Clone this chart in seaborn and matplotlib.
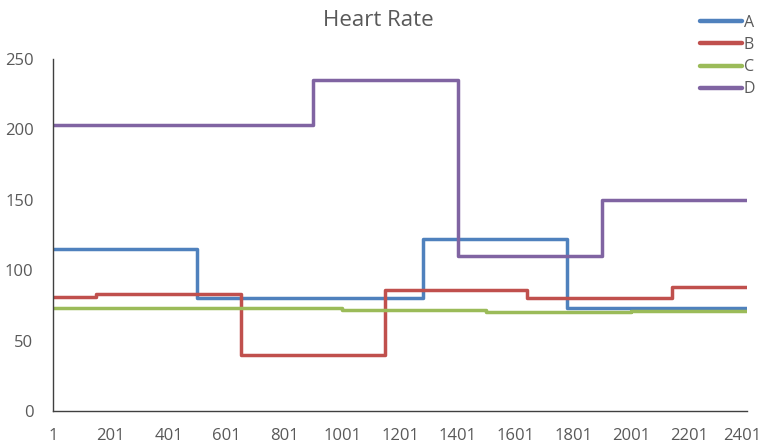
import matplotlib
matplotlib.use("Agg")
import matplotlib.pyplot as plt
import matplotlib.transforms as mtransforms
import seaborn as sns
import pandas as pd

# Step breakpoints (sample index) and heart-rate level from each breakpoint on
a_x = [1, 500, 1280, 1780, 2401]
a_y = [115, 80, 122, 73, 73]
b_x = [1, 150, 650, 1150, 1640, 2140, 2401]
b_y = [81, 83, 40, 86, 80, 88, 88]
c_x = [1, 1000, 1500, 2000, 2401]
c_y = [73, 72, 70, 71, 71]
d_x = [1, 900, 1400, 1900, 2401]
d_y = [203, 235, 110, 150, 150]

series_names = ["A", "B", "C", "D"]
series_colors = ["#4F81BD", "#C0504D", "#9BBB59", "#8064A2"]
x_ticks = list(range(1, 2402, 200))
y_ticks = [0, 50, 100, 150, 200, 250]

frames = []
for name, xs, ys in zip(series_names, [a_x, b_x, c_x, d_x], [a_y, b_y, c_y, d_y]):
    frames.append(pd.DataFrame({"sample": xs, "bpm": ys, "series": name}))
df = pd.concat(frames, ignore_index=True)

sns.set_style("white")
plt.rcParams["font.family"] = ["Open Sans", "DejaVu Sans"]

fig = plt.figure(figsize=(7.63, 4.45), dpi=100)
ax = fig.add_axes([53 / 763, 34 / 445, 694 / 763, 352 / 445])

sns.lineplot(data=df, x="sample", y="bpm", hue="series",
             palette=dict(zip(series_names, series_colors)),
             drawstyle="steps-post", linewidth=2.5, ax=ax, legend=True)

ax.set_xlim(1, 2401)
ax.set_ylim(0, 250)
ax.set_xticks(x_ticks)
ax.set_yticks(y_ticks)
ax.tick_params(axis="both", length=0, labelsize=12, colors="#595959")
ax.tick_params(axis="x", pad=12)
ax.tick_params(axis="y", pad=14)
ax.set_xlabel("")
ax.set_ylabel("")
for side in ["top", "right"]:
    ax.spines[side].set_visible(False)
for side in ["left", "bottom"]:
    ax.spines[side].set_color("#404040")
    ax.spines[side].set_linewidth(1.0)

# keep the last category label inside the figure edge
fig.canvas.draw()
last_label = ax.get_xticklabels()[-1]
last_label.set_transform(last_label.get_transform()
                         + mtransforms.ScaledTranslation(-5 / 100, 0, fig.dpi_scale_trans))

fig.text(378 / 763, 1 - 20 / 445, "Heart Rate", ha="center", va="center",
         fontsize=16, color="#595959")

leg = ax.legend(loc="upper left", bbox_to_anchor=(700 / 763, 1 - 15 / 445),
                bbox_transform=fig.transFigure, frameon=False,
                handlelength=2.6, handletextpad=0.15, labelspacing=0.38,
                fontsize=11.5, borderaxespad=0, borderpad=0)
for t in leg.get_texts():
    t.set_color("#595959")
for h in leg.get_lines():
    h.set_linewidth(3.2)

fig.savefig("out.png", dpi=100)
